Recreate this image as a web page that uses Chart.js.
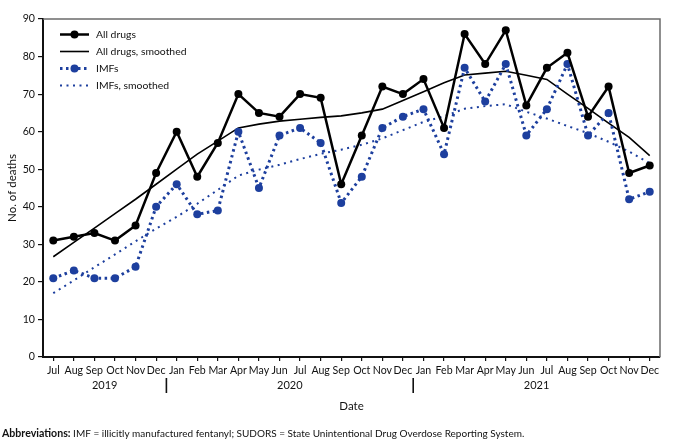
<!DOCTYPE html>
<html><head><meta charset="utf-8">
<script src="https://cdn.jsdelivr.net/npm/chart.js@4"></script>
<style>html,body{margin:0;padding:0;background:#fff}#wrap{width:680px;height:448px}</style>
</head><body><div id="wrap"><canvas id="c" width="680" height="448"></canvas></div>
<script>
const months = ["Jul","Aug","Sep","Oct","Nov","Dec","Jan","Feb","Mar","Apr","May","Jun","Jul","Aug","Sep","Oct","Nov","Dec","Jan","Feb","Mar","Apr","May","Jun","Jul","Aug","Sep","Oct","Nov","Dec"];
const years = [{label:"2019", from:0, to:5},{label:"2020", from:6, to:17},{label:"2021", from:18, to:29}];
const allDrugs = [31,32,33,31,35,49,60,48,57,70,65,64,70,69,46,59,72,70,74,61,86,78,87,67,77,81,64,72,49,51];
const allDrugsSmoothed = [26.7,30.5,34.3,38.2,42,46,50,54,57.5,61,62,62.8,63.3,63.8,64.2,65,66,68.3,70.6,73,75.1,75.6,76.1,75,73.9,70,66.2,62.3,58.5,53.6];
const imfs = [21,23,21,21,24,40,46,38,39,60,45,59,61,57,41,48,61,64,66,54,77,68,78,59,66,78,59,65,42,44];
const imfsSmoothed = [17,20.4,23.9,27.3,30.8,34.2,37.3,40.8,44.5,48.3,49.9,51.2,52.7,54.1,55.2,56.5,58.2,60.4,62.6,64.1,66.1,66.8,67.3,65.3,63.5,61.5,59.6,57.3,54.7,51.6];
const yTicks = [0,10,20,30,40,50,60,70,80,90];

const BLUE = '#1d3f9e';
const FONT = 'Lato, "Open Sans", sans-serif';

const extras = {
  id:'extras',
  afterDraw(chart){
    const ctx = chart.ctx, ca = chart.chartArea, xs = chart.scales.x;
    ctx.save();
    // top/right border
    ctx.strokeStyle = '#6b6b6b'; ctx.lineWidth = 1.5;
    ctx.beginPath(); ctx.moveTo(ca.left, ca.top); ctx.lineTo(ca.right, ca.top); ctx.lineTo(ca.right, ca.bottom); ctx.stroke();
    // years
    ctx.fillStyle = '#111'; ctx.font = '11px ' + FONT; ctx.textAlign='center'; ctx.textBaseline='middle';
    years.forEach((y,i)=>{
      const a = xs.getPixelForValue(y.from), b = xs.getPixelForValue(y.to);
      ctx.fillText(y.label, (a+b)/2, 385);
      if(i>0){
        const sx = (xs.getPixelForValue(y.from-1)+a)/2;
        ctx.strokeStyle='#111'; ctx.lineWidth=1.6;
        ctx.beginPath(); ctx.moveTo(sx,378); ctx.lineTo(sx,393); ctx.stroke();
      }
    });
    // axis titles
    ctx.font = '11.5px ' + FONT;
    ctx.fillText('Date', (ca.left+ca.right)/2, 406);
    ctx.save(); ctx.translate(12, (ca.top+ca.bottom)/2); ctx.rotate(-Math.PI/2); ctx.fillText('No. of deaths',0,0); ctx.restore();
    // footnote
    ctx.textAlign='left';
    ctx.font = 'bold 10.6px ' + FONT;
    const t1 = 'Abbreviations:';
    ctx.fillText(t1, 2, 434);
    const w = ctx.measureText(t1).width;
    ctx.font = '10px ' + FONT;
    ctx.fillText(' IMF = illicitly manufactured fentanyl; SUDORS = State Unintentional Drug Overdose Reporting System.', 2+w, 434);
    // legend
    const items = chart.data.datasets;
    const ly = [34.5, 51.5, 68.5, 85.5];
    items.forEach((d,i)=>{
      const y = ly[i];
      ctx.strokeStyle = d.borderColor; ctx.lineWidth = d.borderWidth;
      ctx.setLineDash(d.borderDash || []);
      ctx.beginPath(); ctx.moveTo(60,y); ctx.lineTo(89,y); ctx.stroke();
      ctx.setLineDash([]);
      if(d.pointRadius>0){
        ctx.fillStyle = d.pointBackgroundColor;
        ctx.beginPath(); ctx.arc(74.5,y,d.pointRadius,0,Math.PI*2); ctx.fill();
      }
      ctx.fillStyle='#111'; ctx.font='10.4px ' + FONT; ctx.textBaseline='middle';
      ctx.fillText(d.label, 96, y);
    });
    ctx.restore();
  }
};

new Chart(document.getElementById('c'), {
  type:'line',
  data:{
    labels: months,
    datasets:[
      {label:'All drugs', data:allDrugs, borderColor:'#000', borderWidth:2.5, pointRadius:4, pointBackgroundColor:'#000', pointBorderWidth:0, tension:0, order:1},
      {label:'All drugs, smoothed', data:allDrugsSmoothed, borderColor:'#000', borderWidth:1.6, pointRadius:0, tension:0, order:3},
      {label:'IMFs', data:imfs, borderColor:BLUE, borderWidth:3, borderDash:[2.5,3.5], pointRadius:4, pointBackgroundColor:BLUE, pointBorderWidth:0, tension:0, order:2},
      {label:'IMFs, smoothed', data:imfsSmoothed, borderColor:BLUE, borderWidth:2, borderDash:[2,4.5], pointRadius:0, tension:0, order:4}
    ]
  },
  options:{
    responsive:false, animation:false, devicePixelRatio:1,
    layout:{padding:{left:0,right:20,top:19,bottom:0}},
    plugins:{legend:{display:false}, tooltip:{enabled:false}},
    scales:{
      x:{
        offset:true,
        grid:{display:true, drawOnChartArea:false, drawTicks:true, tickLength:4, color:'#111', lineWidth:1.2, offset:false},
        border:{display:true, color:'#111', width:2},
        ticks:{color:'#111', font:{family:FONT, size:10.6}, padding:3, maxRotation:0, autoSkip:false},
        afterFit(s){ s.height = 91; }
      },
      y:{
        min:0, max:90,
        afterBuildTicks(s){ s.ticks = yTicks.map(v=>({value:v})); },
        grid:{display:true, drawOnChartArea:false, drawTicks:true, tickLength:5, color:'#111', lineWidth:1.2},
        border:{display:true, color:'#111', width:2},
        ticks:{color:'#111', font:{family:FONT, size:10.6}, padding:3},
        afterFit(s){ s.width = 43; }
      }
    }
  },
  plugins:[extras]
});
</script></body></html>
